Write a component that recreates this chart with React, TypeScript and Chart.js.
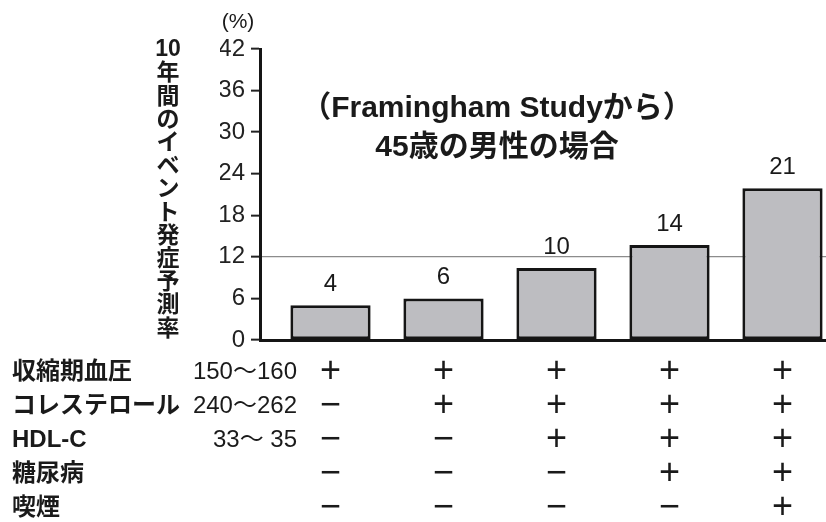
import React, { useEffect, useRef } from 'react';
import { Chart, registerables } from 'chart.js';

Chart.register(...registerables);

// ---- data ----
const barValues = [5, 6, 10.4, 13.7, 21.9];
const barLabels = ['4', '6', '10', '14', '21'];
const referenceValue = 12;
const yMin = 0;
const yMax = 42;
const yStep = 6;
const titleLines = ['（Framingham Studyから）', '45歳の男性の場合'];
const yTitleTop = '10';
const yTitleChars = ['年', '間', 'の', 'イ', 'ベ', 'ン', 'ト', '発', '症', '予', '測', '率'];
const yUnit = '(%)';
const rowLabels = ['収縮期血圧', 'コレステロール', 'HDL-C', '糖尿病', '喫煙'];
const rowRanges = ['150〜160', '240〜262', '33〜 35', '', ''];
const rowSbp = ['+', '+', '+', '+', '+'];
const rowChol = ['−', '+', '+', '+', '+'];
const rowHdl = ['−', '−', '+', '+', '+'];
const rowDm = ['−', '−', '−', '+', '+'];
const rowSmoke = ['−', '−', '−', '−', '+'];
const tableRows = [rowSbp, rowChol, rowHdl, rowDm, rowSmoke];
const columnIndex = [0, 1, 2, 3, 4];

const FONT = '"Liberation Sans", "Noto Sans CJK JP", sans-serif';

const extrasPlugin = {
  id: 'extras',
  afterDatasetsDraw(chart: any) {
    const { ctx, chartArea, scales } = chart;
    const xs = scales.x;
    ctx.save();
    ctx.fillStyle = '#1a1a1a';

    // value labels above bars
    const meta = chart.getDatasetMeta(0);
    ctx.font = `24px ${FONT}`;
    ctx.textAlign = 'center';
    ctx.textBaseline = 'bottom';
    meta.data.forEach((el: any, i: number) => {
      ctx.fillText(barLabels[i], el.x, el.y - 9);
    });

    // title in plot
    ctx.font = `bold 30px ${FONT}`;
    ctx.textBaseline = 'middle';
    const tx = chartArea.left + 237;
    ctx.fillText(titleLines[0], tx, chartArea.top + 60);
    ctx.fillText(titleLines[1], tx, chartArea.top + 99);

    // unit
    ctx.font = `21px ${FONT}`;
    ctx.fillText(yUnit, chartArea.left - 22, 22);

    // vertical y title
    ctx.font = `bold 23px ${FONT}`;
    const vx = 168;
    ctx.fillText(yTitleTop, vx, 50);
    yTitleChars.forEach((c, i) => {
      ctx.fillText(c, vx, 74 + i * 23.2);
    });

    // table under the chart
    const rowY0 = chartArea.bottom + 32;
    const rowH = 34;
    rowLabels.forEach((lab, r) => {
      const y = rowY0 + r * rowH;
      ctx.textAlign = 'left';
      ctx.font = `bold 24px ${FONT}`;
      ctx.fillText(lab, 12, y);
      if (rowRanges[r]) {
        ctx.textAlign = 'right';
        ctx.font = `24px ${FONT}`;
        ctx.fillText(rowRanges[r], 297, y);
      }
      ctx.textAlign = 'center';
      ctx.font = `36px ${FONT}`;
      tableRows[r].forEach((s, i) => {
        ctx.fillText(s, xs.getPixelForValue(columnIndex[i]), y);
      });
    });
    ctx.restore();
  },
};

export default function App() {
  const ref = useRef<HTMLCanvasElement | null>(null);
  useEffect(() => {
    if (!ref.current) return;
    const chart = new Chart(ref.current, {
      type: 'bar',
      data: {
        datasets: [
          {
            data: barValues.map((v, i) => ({ x: columnIndex[i], y: v })),
            backgroundColor: '#bdbdc1',
            borderColor: '#151515',
            borderWidth: 3,
            borderSkipped: false,
            barPercentage: 0.71,
            categoryPercentage: 1,
          },
        ],
      },
      options: {
        animation: false,
        responsive: true,
        maintainAspectRatio: false,
        layout: { padding: { left: 220, top: 49, right: 0, bottom: 182 } },
        plugins: { legend: { display: false }, tooltip: { enabled: false }, title: { display: false } },
        scales: {
          x: {
            type: 'linear',
            offset: false,
            min: -0.624,
            max: 4.385,
            ticks: { display: false },
            grid: { display: false, drawTicks: false, offset: false },
            border: { display: true, color: '#151515', width: 3 },
            afterBuildTicks: (s: any) => { s.ticks = columnIndex.map((v) => ({ value: v })); },
            afterFit: (s: any) => { s.height = 0; },
          },
          y: {
            min: yMin,
            max: yMax,
            ticks: {
              stepSize: yStep,
              color: '#222',
              padding: 6,
              font: { family: FONT, size: 24 },
            },
            grid: {
              color: (c: any) => (c.tick && c.tick.value === referenceValue ? '#8c8c8c' : 'rgba(0,0,0,0)'),
              lineWidth: 1.3,
              tickColor: '#222',
              tickWidth: 2,
              tickLength: 9,
            },
            border: { display: true, color: '#151515', width: 3 },
            afterFit: (s: any) => { s.width = 40; },
          },
        },
      },
      plugins: [extrasPlugin],
    });
    return () => chart.destroy();
  }, []);
  return (
    <div style={{ position: 'absolute', left: 0, top: 0, width: 826, height: 522, background: '#fff' }}>
      <canvas ref={ref} />
    </div>
  );
}
